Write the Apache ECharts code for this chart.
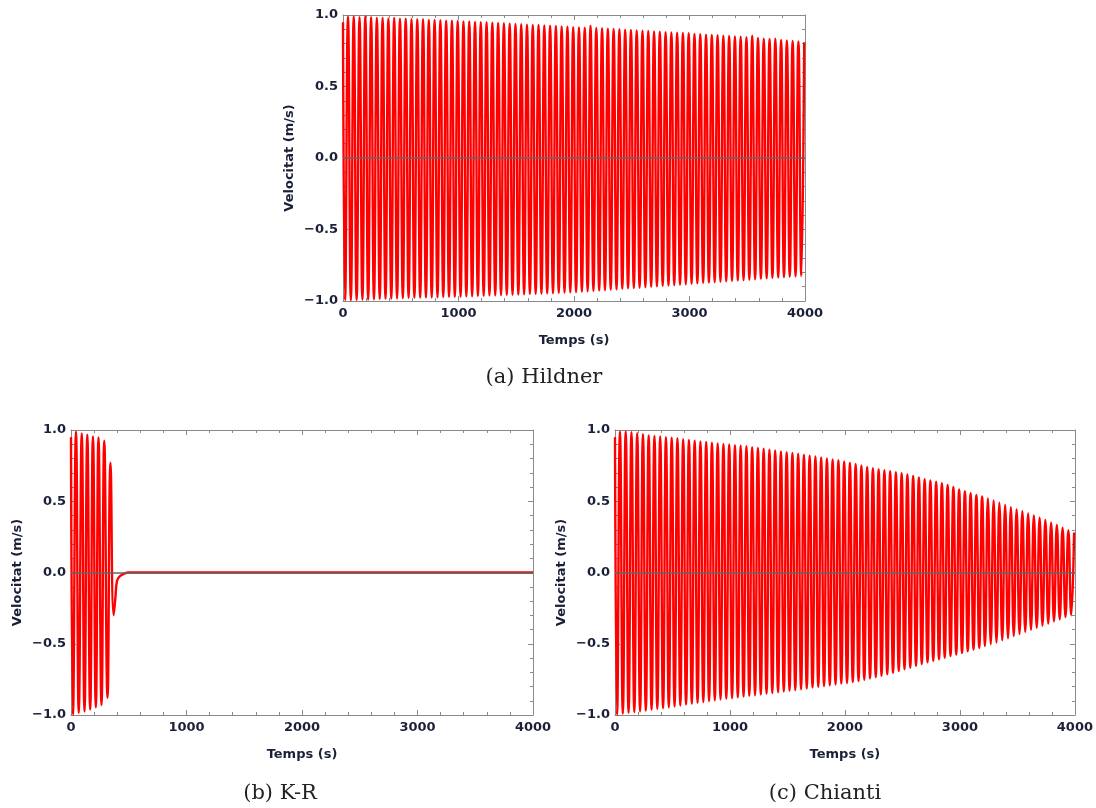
<!DOCTYPE html>
<html><head><meta charset="utf-8">
<script src="https://cdn.jsdelivr.net/npm/echarts@6/dist/echarts.min.js"></script>
<style>html,body{margin:0;padding:0;background:#fff}#c{width:1096px;height:808px}</style>
</head><body><div id="c"></div><script>
// ---- data ----
const xTicks = [0, 1000, 2000, 3000, 4000];
const yTicks = [-1.0, -0.5, 0.0, 0.5, 1.0];
const captions = ['(a) Hildner', '(b) K-R', '(c) Chianti'];
const startPoint = [0, 0.95];

// times (s) of the troughs and crests of the oscillation (period ~50 s)
const troughTimes = [18,68,118,168,218,268,318,368,418,468,518,568,618,668,718,768,818,868,918,968,
 1018,1068,1118,1168,1218,1268,1318,1368,1418,1468,1518,1568,1618,1668,1718,1768,1818,1868,1918,1968,
 2018,2068,2118,2168,2218,2268,2318,2368,2418,2468,2518,2568,2618,2668,2718,2768,2818,2868,2918,2968,
 3018,3068,3118,3168,3218,3268,3318,3368,3418,3468,3518,3568,3618,3668,3718,3768,3818,3868,3918,3968];
const peakTimes = [43,93,143,193,243,293,343,393,443,493,543,593,643,693,743,793,843,893,943,993,
 1043,1093,1143,1193,1243,1293,1343,1393,1443,1493,1543,1593,1643,1693,1743,1793,1843,1893,1943,1993,
 2043,2093,2143,2193,2243,2293,2343,2393,2443,2493,2543,2593,2643,2693,2743,2793,2843,2893,2943,2993,
 3043,3093,3143,3193,3243,3293,3343,3393,3443,3493,3543,3593,3643,3693,3743,3793,3843,3893,3943,3993];

// (a) Hildner
const hildnerPeaks = [0.99,0.99,0.985,0.99,0.985,0.98,0.98,0.975,0.98,0.975,
 0.975,0.97,0.97,0.97,0.965,0.965,0.963,0.96,0.96,0.958,
 0.955,0.955,0.952,0.95,0.95,0.947,0.945,0.942,0.94,0.937,
 0.935,0.933,0.93,0.93,0.927,0.925,0.923,0.92,0.918,0.915,
 0.913,0.912,0.925,0.91,0.907,0.905,0.902,0.9,0.897,0.895,
 0.892,0.89,0.888,0.885,0.883,0.88,0.878,0.876,0.874,0.872,
 0.868,0.866,0.863,0.86,0.858,0.856,0.853,0.85,0.848,0.845,
 0.855,0.84,0.835,0.832,0.834,0.826,0.822,0.818,0.815,0.81];
const hildnerTroughs = [-0.995,-0.995,-0.993,-0.99,-0.99,-0.988,-0.987,-0.985,-0.984,-0.982,
 -0.98,-0.979,-0.978,-0.977,-0.976,-0.975,-0.974,-0.973,-0.972,-0.971,
 -0.97,-0.968,-0.967,-0.965,-0.964,-0.962,-0.961,-0.959,-0.958,-0.957,
 -0.955,-0.954,-0.952,-0.951,-0.949,-0.947,-0.946,-0.944,-0.942,-0.94,
 -0.937,-0.935,-0.932,-0.93,-0.927,-0.924,-0.921,-0.918,-0.915,-0.912,
 -0.91,-0.907,-0.904,-0.901,-0.898,-0.895,-0.892,-0.889,-0.886,-0.883,
 -0.88,-0.877,-0.874,-0.871,-0.868,-0.865,-0.862,-0.86,-0.857,-0.854,
 -0.851,-0.848,-0.845,-0.842,-0.839,-0.836,-0.833,-0.83,-0.828,-0.825];

// (c) Chianti
const chiantiPeaks = [0.99,0.99,0.985,0.978,0.971,0.962,0.958,0.954,0.95,0.946,
 0.942,0.935,0.93,0.925,0.92,0.916,0.911,0.906,0.902,0.898,
 0.894,0.89,0.886,0.88,0.874,0.868,0.862,0.856,0.85,0.845,
 0.839,0.833,0.827,0.82,0.814,0.808,0.801,0.794,0.788,0.78,
 0.771,0.761,0.751,0.741,0.732,0.725,0.718,0.711,0.704,0.697,
 0.688,0.678,0.667,0.655,0.646,0.638,0.627,0.614,0.6,0.582,
 0.57,0.557,0.545,0.533,0.52,0.505,0.49,0.474,0.458,0.443,
 0.43,0.415,0.4,0.384,0.368,0.35,0.333,0.315,0.297,0.28];
const chiantiTroughs = [-1.0,-0.99,-0.985,-0.98,-0.975,-0.97,-0.963,-0.958,-0.952,-0.946,
 -0.94,-0.933,-0.927,-0.921,-0.915,-0.909,-0.903,-0.897,-0.891,-0.886,
 -0.881,-0.876,-0.871,-0.866,-0.861,-0.856,-0.851,-0.846,-0.84,-0.835,
 -0.83,-0.825,-0.819,-0.814,-0.808,-0.803,-0.797,-0.792,-0.786,-0.78,
 -0.775,-0.769,-0.762,-0.753,-0.744,-0.735,-0.725,-0.715,-0.704,-0.692,
 -0.68,-0.668,-0.655,-0.643,-0.631,-0.62,-0.609,-0.598,-0.587,-0.576,
 -0.565,-0.553,-0.541,-0.529,-0.516,-0.503,-0.491,-0.476,-0.461,-0.446,
 -0.431,-0.416,-0.402,-0.388,-0.373,-0.358,-0.343,-0.329,-0.314,-0.3];

// (b) K-R : oscillation, then collapse to zero
const krTimes  = [0, 17, 43, 67, 93, 117, 141, 166, 190, 215, 238, 264, 288, 316, 342, 369, 384, 398, 418, 456, 499, 4000];
const krValues = [0.95, -1.0, 0.99, -0.985, 0.976, -0.976, 0.967, -0.962, 0.955, -0.946, 0.948, -0.93, 0.925, -0.88, 0.77, -0.30, -0.18, -0.06, -0.03, -0.01, 0.0, 0.0];

// ---- build ----
function oscillation(peaks, troughs) {
  const d = [startPoint.slice()];
  for (let k = 0; k < troughTimes.length; k++) {
    d.push([troughTimes[k], troughs[k]]);
    d.push([peakTimes[k], peaks[k]]);
  }
  return d;
}
const krData = krTimes.map((t, i) => [t, krValues[i]]);

const FRAME = '#8a8a8a';
const LAB = '#1b2038';
const FONT = 'DejaVu Sans';
const grids = [
  {left: 343, top: 15, width: 462, height: 286},
  {left: 71, top: 430, width: 462, height: 285},
  {left: 615, top: 430, width: 462, height: 285}
];
const fmtY = v => (v < 0 ? '\u2212' : '') + Math.abs(v).toFixed(1);
const fmtX = v => String(Math.round(v));
const tickCommon = {inside: true, length: 5, lineStyle: {color: FRAME, width: 1}};
const minorCommon = {show: true, splitNumber: 5, length: 3, lineStyle: {color: FRAME, width: 1}};
const xAxis = [], yAxis = [];
grids.forEach((g, i) => {
  xAxis.push({type: 'value', gridIndex: i, position: 'bottom', min: xTicks[0], max: xTicks[xTicks.length-1],
    interval: xTicks[1] - xTicks[0],
    name: 'Temps (s)', nameLocation: 'middle', nameGap: 33,
    nameTextStyle: {color: LAB, fontFamily: FONT, fontWeight: 'bold', fontSize: 13},
    axisLine: {onZero: false, lineStyle: {color: FRAME, width: 1}},
    axisTick: tickCommon, minorTick: minorCommon,
    axisLabel: {margin: 6, color: LAB, fontFamily: FONT, fontWeight: 'bold', fontSize: 13, formatter: fmtX},
    splitLine: {show: false}});
  xAxis.push({type: 'value', gridIndex: i, position: 'top', min: xTicks[0], max: xTicks[xTicks.length-1],
    interval: xTicks[1] - xTicks[0],
    axisLine: {onZero: false, lineStyle: {color: FRAME, width: 1}},
    axisTick: tickCommon, minorTick: minorCommon,
    axisLabel: {show: false}, splitLine: {show: false}});
  yAxis.push({type: 'value', gridIndex: i, position: 'left', min: yTicks[0], max: yTicks[yTicks.length-1],
    interval: yTicks[1] - yTicks[0],
    name: 'Velocitat (m/s)', nameLocation: 'middle', nameGap: 47,
    nameTextStyle: {color: LAB, fontFamily: FONT, fontWeight: 'bold', fontSize: 13},
    axisLine: {onZero: false, lineStyle: {color: FRAME, width: 1}},
    axisTick: tickCommon, minorTick: minorCommon,
    axisLabel: {margin: 5, color: LAB, fontFamily: FONT, fontWeight: 'bold', fontSize: 13, formatter: fmtY},
    splitLine: {show: false}});
  yAxis.push({type: 'value', gridIndex: i, position: 'right', min: yTicks[0], max: yTicks[yTicks.length-1],
    interval: yTicks[1] - yTicks[0],
    axisLine: {onZero: false, lineStyle: {color: FRAME, width: 1}},
    axisTick: tickCommon, minorTick: minorCommon,
    axisLabel: {show: false}, splitLine: {show: false}});
});
const datasets = [oscillation(hildnerPeaks, hildnerTroughs), krData, oscillation(chiantiPeaks, chiantiTroughs)];
const series = datasets.map((d, i) => ({
  type: 'line', xAxisIndex: 2*i, yAxisIndex: 2*i, data: d,
  showSymbol: false, smooth: 0.5, silent: true,
  lineStyle: {color: '#ff0000', width: 2.4},
  markLine: {silent: true, symbol: 'none', label: {show: false}, animation: false,
    lineStyle: {color: '#646464', width: 1.6, type: 'solid'}, data: [{yAxis: 0}]}
}));
const capPos = [[544, 378], [280, 794], [825, 794]];
const graphic = captions.map((c, i) => ({
  type: 'text', x: capPos[i][0], y: capPos[i][1],
  style: {text: c, fill: '#222', font: '21px "DejaVu Serif"', textAlign: 'center', textVerticalAlign: 'middle'}
}));
const chart = echarts.init(document.getElementById('c'), null, {renderer: 'canvas'});
chart.setOption({animation: false, backgroundColor: '#fff', grid: grids, xAxis, yAxis, series, graphic});
</script></body></html>
